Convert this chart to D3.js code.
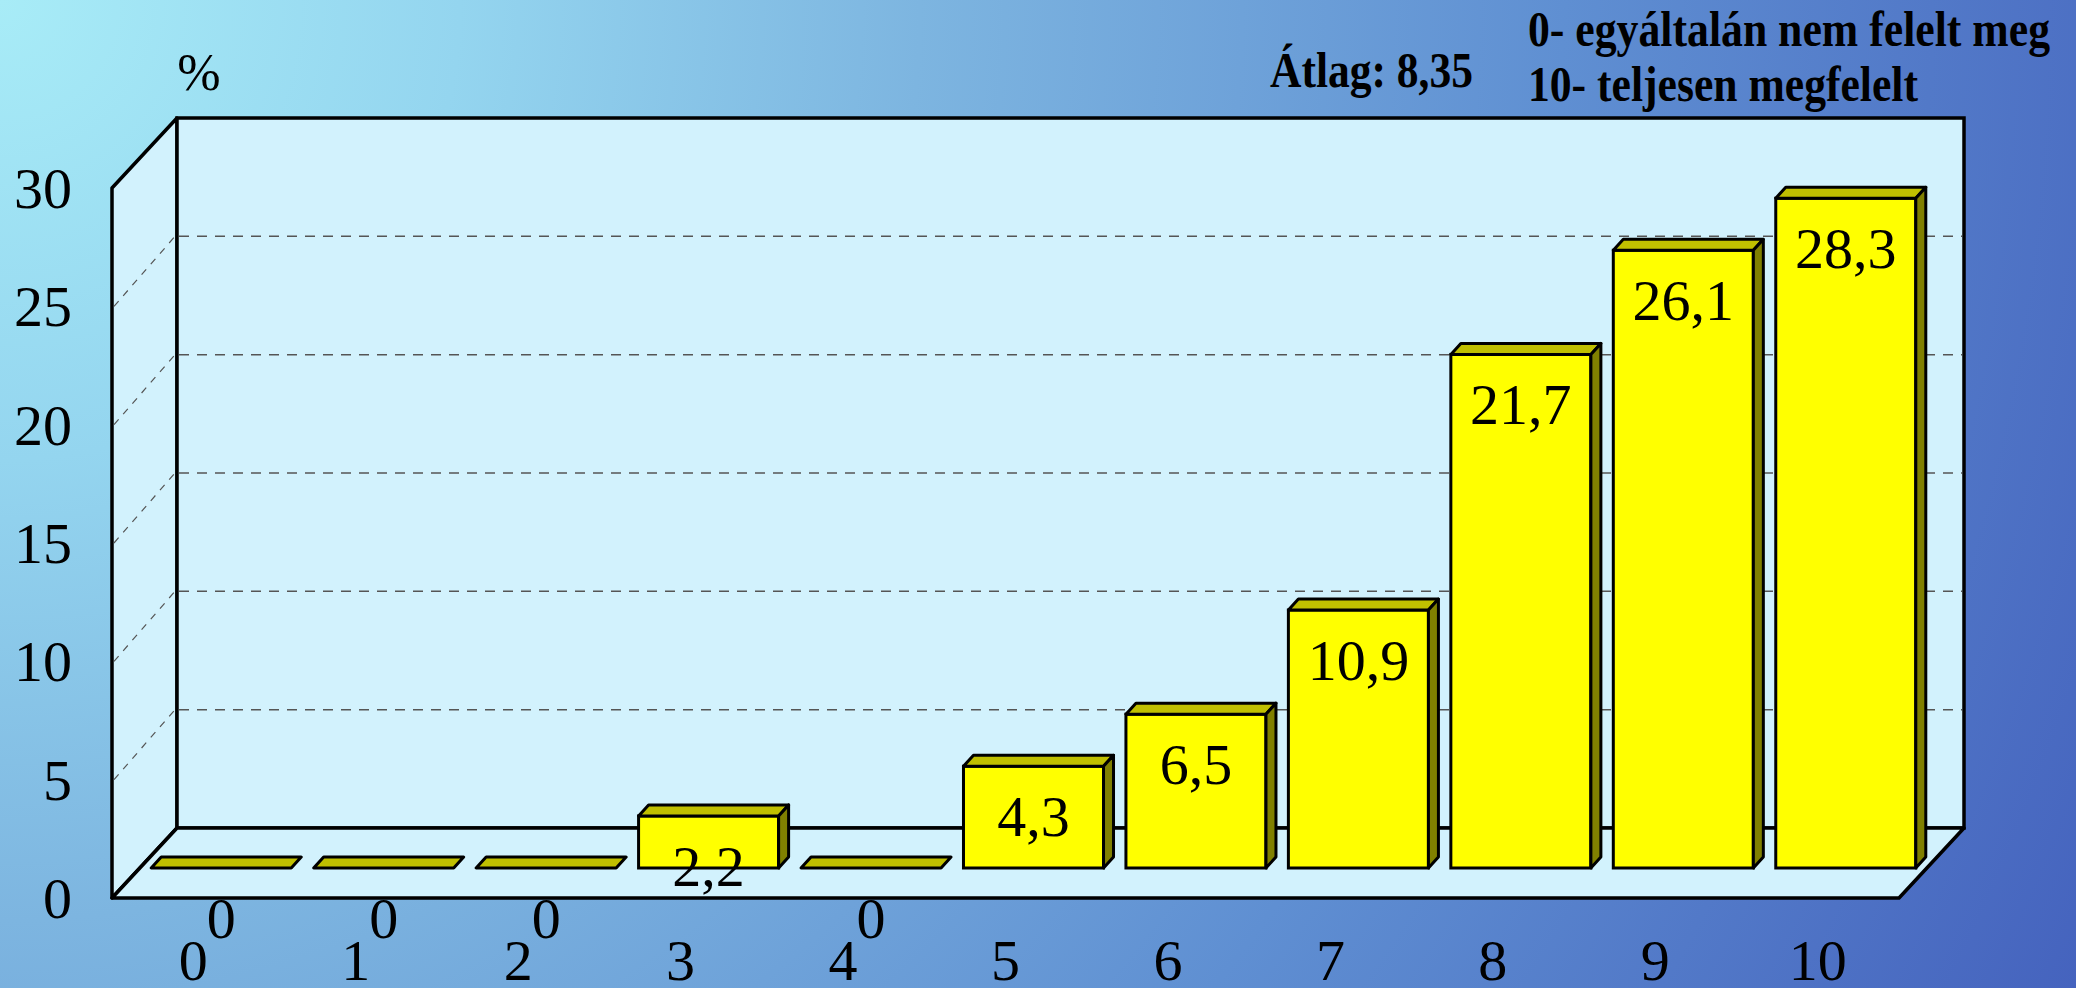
<!DOCTYPE html>
<html>
<head>
  <meta charset="utf-8">
  <title>Átlag 8,35</title>
  <style>
    html, body { margin: 0; padding: 0; overflow: hidden; }
    svg { display: block; }
    text { font-family: "Liberation Serif", "Times New Roman", serif; fill: #000; }
    .bold { font-weight: bold; }
  </style>
</head>
<body>
  <svg width="2076" height="988"></svg>
  <script src="https://d3js.org/d3.v7.min.js"></script>
  <script>

  // chart data
  var categories = ["0", "1", "2", "3", "4", "5", "6", "7", "8", "9", "10"];
  var values = [0, 0, 0, 2.2, 0, 4.3, 6.5, 10.9, 21.7, 26.1, 28.3];
  var yTicks = [0, 5, 10, 15, 20, 25, 30];
  var gridTicks = [5, 10, 15, 20, 25];
  var unitLabel = "%";
  var avgLabel = "Átlag: 8,35";
  var scaleNotes = ["0- egyáltalán nem felelt meg", "10- teljesen megfelelt"];

  var svg = d3.select("svg"),
      width = +svg.attr("width"),
      height = +svg.attr("height");

  var wallFill = "#d2f2fd";
  var depth = { dx: 65, dy: -70 };      // floor depth (front plane -> back wall)
  var barShift = { dx: 28, dy: -30 };   // where the bars stand on the floor
  var barDepth = { dx: 10, dy: -11 };   // thickness of each 3D bar

  var x = d3.scaleBand()
      .domain(categories)
      .range([112, 1899])
      .paddingInner(0.138)
      .paddingOuter(0.069);

  var y = d3.scaleLinear()
      .domain([0, 30])
      .range([898, 188]);

  // background
  var defs = svg.append("defs");
  var bg = defs.append("radialGradient")
      .attr("id", "bg")
      .attr("gradientUnits", "userSpaceOnUse")
      .attr("cx", 0).attr("cy", 0).attr("r", 2300);
  [[0, "#a8ecf7"], [0.2, "#94d5ef"], [0.4, "#7db5e0"], [0.68, "#5f8fd2"], [1, "#4563be"]]
    .forEach(function(s) {
      bg.append("stop").attr("offset", s[0]).attr("stop-color", s[1]);
    });

  svg.append("rect")
      .attr("width", width)
      .attr("height", height)
      .attr("fill", "url(#bg)");

  var x0 = x.range()[0], x1 = x.range()[1];
  var y0 = y(0), yTop = y(30);

  function pts(arr) {
    return arr.map(function(p) { return p.join(","); }).join(" ");
  }

  var frame = svg.append("g").attr("class", "frame");

  // left wall
  frame.append("polygon")
      .attr("points", pts([[x0, y0], [x0, yTop], [x0 + depth.dx, yTop + depth.dy], [x0 + depth.dx, y0 + depth.dy]]))
      .attr("fill", wallFill)
      .attr("stroke", "#000")
      .attr("stroke-width", 3.5)
      .attr("stroke-linejoin", "round");

  // back wall
  frame.append("rect")
      .attr("x", x0 + depth.dx)
      .attr("y", yTop + depth.dy)
      .attr("width", x1 - x0)
      .attr("height", y0 - yTop)
      .attr("fill", wallFill)
      .attr("stroke", "#000")
      .attr("stroke-width", 3.5);

  // floor
  frame.append("polygon")
      .attr("points", pts([[x0, y0], [x1, y0], [x1 + depth.dx, y0 + depth.dy], [x0 + depth.dx, y0 + depth.dy]]))
      .attr("fill", wallFill)
      .attr("stroke", "#000")
      .attr("stroke-width", 3.5)
      .attr("stroke-linejoin", "round");

  // gridlines on the back wall
  frame.selectAll("line.grid")
      .data(gridTicks)
      .enter()
      .append("line")
      .attr("class", "grid")
      .attr("x1", x0 + depth.dx + 2)
      .attr("x2", x1 + depth.dx - 2)
      .attr("y1", function(d) { return y(d) + depth.dy; })
      .attr("y2", function(d) { return y(d) + depth.dy; })
      .attr("stroke", "#555")
      .attr("stroke-width", 1.5)
      .attr("stroke-dasharray", "10,8");

  // and on the left wall
  frame.selectAll("line.sgrid")
      .data(gridTicks)
      .enter()
      .append("line")
      .attr("class", "sgrid")
      .attr("x1", x0 + 2)
      .attr("x2", x0 + depth.dx - 2)
      .attr("y1", function(d) { return y(d); })
      .attr("y2", function(d) { return y(d) + depth.dy; })
      .attr("stroke", "#555")
      .attr("stroke-width", 1.2)
      .attr("stroke-dasharray", "7,7");

  // bars
  var bars = svg.append("g")
      .attr("class", "bars")
      .selectAll("g")
      .data(values)
      .enter()
      .append("g");

  function bx(d, i) { return x(categories[i]) + barShift.dx; }
  function by(d) { return y(d) + barShift.dy; }
  var bw = x.bandwidth();
  var base = y(0) + barShift.dy;

  bars.append("rect")
      .attr("x", bx)
      .attr("y", by)
      .attr("width", bw)
      .attr("height", function(d) { return base - by(d); })
      .attr("fill", "#ffff00")
      .attr("stroke", "#000")
      .attr("stroke-width", 3);

  // top face
  bars.append("polygon")
      .attr("points", function(d, i) {
        var l = bx(d, i), t = by(d);
        return pts([[l, t], [l + bw, t], [l + bw + barDepth.dx, t + barDepth.dy], [l + barDepth.dx, t + barDepth.dy]]);
      })
      .attr("fill", "#c0c000")
      .attr("stroke", "#000")
      .attr("stroke-width", 3)
      .attr("stroke-linejoin", "round");

  // side face
  bars.each(function(d, i) {
    if (d <= 0) return;
    var r = bx(d, i) + bw, t = by(d);
    d3.select(this).append("polygon")
        .attr("points", pts([[r, t], [r + barDepth.dx, t + barDepth.dy], [r + barDepth.dx, base + barDepth.dy], [r, base]]))
        .attr("fill", "#808000")
        .attr("stroke", "#000")
        .attr("stroke-width", 3)
        .attr("stroke-linejoin", "round");
  });

  // value labels
  svg.append("g")
      .attr("class", "values")
      .selectAll("text")
      .data(values)
      .enter()
      .append("text")
      .attr("x", function(d, i) { return bx(d, i) + bw / 2; })
      .attr("y", function(d) { return by(d) + 70; })
      .attr("text-anchor", "middle")
      .style("font-size", "58px")
      .text(function(d) { return String(d).replace(".", ","); });

  // y axis labels
  svg.append("g")
      .attr("class", "yaxis")
      .selectAll("text")
      .data(yTicks)
      .enter()
      .append("text")
      .attr("x", 72)
      .attr("y", function(d) { return y(d) + 20; })
      .attr("text-anchor", "end")
      .style("font-size", "58px")
      .text(function(d) { return d; });

  // x axis labels
  svg.append("g")
      .attr("class", "xaxis")
      .selectAll("text")
      .data(categories)
      .enter()
      .append("text")
      .attr("x", function(d) { return x(d) + x.bandwidth() / 2; })
      .attr("y", 980)
      .attr("text-anchor", "middle")
      .style("font-size", "58px")
      .text(function(d) { return d; });

  svg.append("text")
      .attr("x", 199)
      .attr("y", 90)
      .attr("text-anchor", "middle")
      .style("font-size", "52px")
      .text(unitLabel);

  svg.append("text")
      .attr("class", "bold")
      .attr("x", 1270)
      .attr("y", 87)
      .attr("textLength", 203)
      .attr("lengthAdjust", "spacingAndGlyphs")
      .style("font-size", "50px")
      .text(avgLabel);

  var noteWidths = [522, 390];
  svg.append("g")
      .selectAll("text")
      .data(scaleNotes)
      .enter()
      .append("text")
      .attr("class", "bold")
      .attr("x", 1528)
      .attr("y", function(d, i) { return 46 + i * 55; })
      .attr("textLength", function(d, i) { return noteWidths[i]; })
      .attr("lengthAdjust", "spacingAndGlyphs")
      .style("font-size", "50px")
      .text(function(d) { return d; });

  </script>
</body>
</html>
